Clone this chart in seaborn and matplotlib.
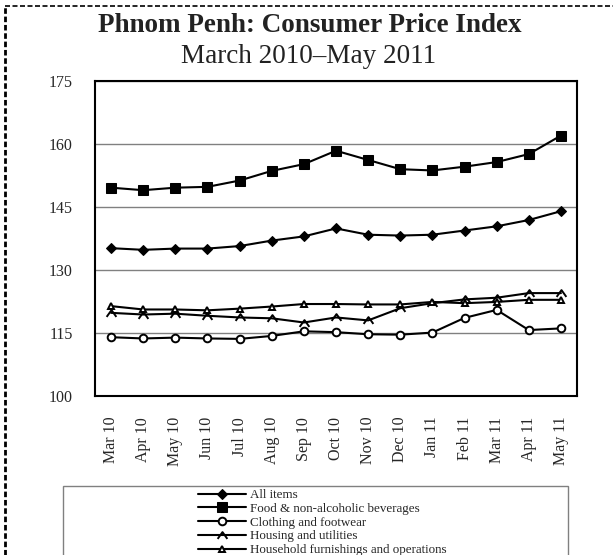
import matplotlib
matplotlib.use("Agg")
import matplotlib.pyplot as plt
from matplotlib.path import Path
from matplotlib.lines import Line2D
from matplotlib.patches import Rectangle
import numpy as np
import pandas as pd
import seaborn as sns

months = ["Mar 10", "Apr 10", "May 10", "Jun 10", "Jul 10", "Aug 10", "Sep 10",
          "Oct 10", "Nov 10", "Dec 10", "Jan 11", "Feb 11", "Mar 11", "Apr 11", "May 11"]

all_items = [135.2, 134.8, 135.1, 135.1, 135.7, 137.0, 138.0, 139.9,
             138.4, 138.2, 138.4, 139.4, 140.4, 141.9, 144.0]
food = [149.6, 149.0, 149.6, 149.8, 151.3, 153.6, 155.2, 158.4,
        156.2, 154.0, 153.7, 154.6, 155.7, 157.6, 162.0]
clothing = [114.0, 113.7, 113.9, 113.7, 113.6, 114.3, 115.4, 115.2,
            114.7, 114.6, 115.1, 118.6, 120.5, 115.7, 116.1]
housing = [119.8, 119.4, 119.6, 119.1, 118.7, 118.5, 117.5, 118.7,
           118.0, 120.9, 122.1, 123.0, 123.4, 124.5, 124.5]
household = [121.4, 120.6, 120.6, 120.4, 120.8, 121.3, 121.9, 121.9,
             121.8, 121.8, 122.4, 122.1, 122.4, 122.9, 122.9]

series_names = ["All items", "Food & non-alcoholic beverages", "Clothing and footwear",
                "Housing and utilities", "Household furnishings and operations"]

# open chevron marker for housing
chevron = Path([(-1, -0.7), (0, 0.7), (1, -0.7)],
               [Path.MOVETO, Path.LINETO, Path.LINETO])

styles = {
    "All items": dict(marker="D", markersize=5, mfc="black"),
    "Food & non-alcoholic beverages": dict(marker="s", markersize=7, mfc="black"),
    "Clothing and footwear": dict(marker="o", markersize=5.5, mfc="white", mew=1.4),
    "Housing and utilities": dict(marker=chevron, markersize=7, mfc="none", mew=1.4),
    "Household furnishings and operations": dict(marker="^", markersize=5, mfc="white", mew=1.4),
}

df = pd.DataFrame({"month": months, "pos": np.arange(len(months)),
                   "All items": all_items,
                   "Food & non-alcoholic beverages": food,
                   "Clothing and footwear": clothing,
                   "Housing and utilities": housing,
                   "Household furnishings and operations": household})

sns.set_style("white")
plt.rcParams["font.family"] = ["Liberation Serif", "DejaVu Serif"]

fig = plt.figure(figsize=(6.13, 5.55), dpi=100)
W, H = 613, 555
ax = fig.add_axes([95 / W, 1 - 396 / H, (577 - 95) / W, (396 - 81) / H])

for name in series_names:
    sns.lineplot(data=df, x="pos", y=name, ax=ax, color="black", lw=1.5,
                 mec="black", label=name, **styles[name])

ax.set_xlim(-0.5, len(months) - 0.5)
ax.set_ylim(100, 175)
ax.set_yticks([100, 115, 130, 145, 160, 175])
ax.yaxis.grid(True, color="#808080", lw=1)
ax.set_axisbelow(True)
ax.set_xticks(np.arange(len(months)))
ax.set_xticklabels(months, rotation=90, fontsize=11.5)
ax.set_xticks(np.arange(len(months) + 1) - 0.5, minor=True)
ax.tick_params(axis="x", which="major", length=0, pad=15)
ax.tick_params(axis="x", which="minor", length=5, width=1, color="black", direction="out")
ax.tick_params(axis="y", length=5, width=1, color="black", direction="out", labelsize=11.5, pad=11)
ax.set_xlabel("")
ax.set_ylabel("")
for sp in ax.spines.values():
    sp.set_color("black")
    sp.set_linewidth(1.5)
ax.get_legend().remove()

fig.text(310 / W, 1 - 32 / H, "Phnom Penh: Consumer Price Index", ha="center",
         va="baseline", fontsize=19.5, fontweight="bold", color="#222222")
fig.text(309 / W, 1 - 63 / H, "March 2010\u2013May 2011", ha="center",
         va="baseline", fontsize=19.5, color="#222222")

# legend box, running off the bottom edge
fig.patches.append(Rectangle((63 / W, -0.2), (568 - 63) / W, 0.2 + 1 - 486 / H,
                             transform=fig.transFigure, fill=False,
                             edgecolor="#808080", lw=1))
handles, labels = ax.get_legend_handles_labels()
fig.legend(handles, labels, loc="upper center", bbox_to_anchor=(322 / W, 1 - 480 / H),
           frameon=False, fontsize=9.4, handlelength=3.7, handletextpad=0.3,
           labelspacing=0.12, borderpad=0.2)

# dashed page border on the left and top
fig.add_artist(Line2D([5 / W, 5 / W], [0, 1 - 6 / H], transform=fig.transFigure,
                      color="black", lw=2, ls=(0, (2, 1))))
fig.add_artist(Line2D([5 / W, 1], [1 - 6 / H, 1 - 6 / H], transform=fig.transFigure,
                      color="black", lw=1.2, ls=(0, (3, 1.5))))

fig.savefig("out.png", dpi=100)
